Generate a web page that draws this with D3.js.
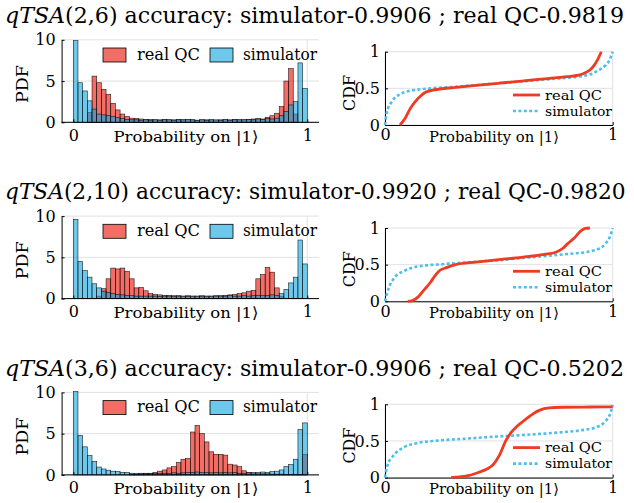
<!DOCTYPE html>
<html><head><meta charset="utf-8">
<script src="https://cdn.jsdelivr.net/npm/d3@7"></script>
<style>
html,body{margin:0;padding:0;background:#fff;}
svg{display:block;}
svg text{font-family:"DejaVu Serif",serif;}
</style></head>
<body><svg id="c" width="634" height="503"></svg>
<script>
// ---------- data ----------
const titles = [
  {it:"qTSA", rest:"(2,6) accuracy: simulator-0.9906 ; real QC-0.9819"},
  {it:"qTSA", rest:"(2,10) accuracy: simulator-0.9920 ; real QC-0.9820"},
  {it:"qTSA", rest:"(3,6) accuracy: simulator-0.9906 ; real QC-0.5202"}
];
const seriesNames = ["real QC", "simulator"];
const binEdgesMin = 0, binEdgesMax = 1, binCount = 50;
const histYTicks = [0, 5, 10];
const histXTicks = [0, 1];
const cdfYTicks = [0, 0.5, 1];
const cdfXTicks = [0, 1];
const cdfYTickLabels = ["0", "0.5", "1"];

// PDF values (bin width 0.02), panel 1
const real1 = [0,0,0,1.2,5.6,4.8,4.0,3.4,2.3,1.5,
  1.0,0.7,0.5,0.45,0.4,0.35,0.35,0.3,0.3,0.35,
  0.3,0.3,0.35,0.3,0.3,0.3,0.25,0.3,0.3,0.3,
  0.25,0.3,0.3,0.3,0.35,0.3,0.3,0.35,0.4,0.45,
  0.4,0.6,0.8,1.1,1.9,5.0,6.5,1.0,0,0];
const sim1 = [9.9,4.8,3.8,2.6,1.6,1.0,0.9,0.8,0.7,0.55,
  0.45,0.35,0.3,0.3,0.25,0.3,0.25,0.3,0.25,0.3,
  0.3,0.25,0.3,0.3,0.35,0.3,0.25,0.3,0.25,0.3,
  0.3,0.25,0.35,0.25,0.3,0.3,0.3,0.35,0.3,0.4,
  0.35,0.45,0.4,0.5,0.8,1.3,2.1,2.5,7.2,4.1];
// panel 2
const real2 = [0,0,0,0,0,0.3,1.2,2.4,3.7,3.6,
  3.7,3.3,2.4,1.3,1.35,0.95,0.6,0.5,0.45,0.4,
  0.4,0.35,0.35,0.3,0.35,0.3,0.3,0.35,0.3,0.3,
  0.35,0.35,0.4,0.45,0.5,0.6,0.7,0.9,1.0,2.4,
  2.9,3.8,3.2,1.3,0.3,0,0,0,0,0];
const sim2 = [9.6,4.5,3.4,2.6,1.8,1.3,0.9,0.75,0.6,0.5,
  0.45,0.4,0.35,0.3,0.3,0.3,0.3,0.3,0.25,0.3,
  0.3,0.25,0.3,0.3,0.25,0.3,0.3,0.25,0.3,0.3,
  0.3,0.3,0.3,0.35,0.3,0.3,0.35,0.3,0.35,0.4,
  0.35,0.4,0.45,0.4,0.6,1.1,1.9,2.6,7.1,4.2];
// panel 3
const real3 = [0,0,0,0,0,0,0,0,0,0,
  0,0,0.1,0.1,0.15,0.2,0.2,0.3,0.45,0.6,
  0.85,1.0,1.5,1.9,2.0,5.2,6.0,5.0,4.0,2.8,
  2.5,2.5,2.4,1.3,1.2,1.0,0.5,0.3,0.2,0.2,
  0.15,0.15,0.1,0.1,0.1,0.05,0.05,0.05,0.05,2.5];
const sim3 = [10.1,4.8,3.4,2.35,1.65,0.95,0.72,0.57,0.45,0.42,
  0.3,0.3,0.2,0.15,0.2,0.15,0.15,0.2,0.15,0.2,
  0.2,0.25,0.2,0.25,0.3,0.3,0.35,0.3,0.3,0.25,
  0.3,0.25,0.3,0.25,0.3,0.2,0.2,0.25,0.3,0.3,
  0.35,0.3,0.4,0.45,0.6,1.0,1.25,1.9,5.5,6.3];

// CDF curves: [x, F(x)]
const cdfReal1 = [[0.066,0],[0.09,0.1],[0.11,0.22],[0.13,0.31],[0.154,0.39],[0.18,0.45],[0.21,0.475],[0.24,0.49],[0.3,0.51],[0.4,0.54],[0.5,0.57],[0.6,0.6],[0.7,0.63],[0.8,0.66],[0.85,0.68],[0.87,0.7],[0.9,0.75],[0.92,0.82],[0.935,0.9],[0.95,1]];
const cdfSim1 = [[0,0],[0.007,0.16],[0.03,0.32],[0.066,0.42],[0.1,0.46],[0.15,0.485],[0.2,0.5],[0.3,0.52],[0.4,0.545],[0.5,0.57],[0.6,0.595],[0.7,0.62],[0.8,0.645],[0.87,0.67],[0.91,0.7],[0.94,0.75],[0.97,0.82],[0.985,0.88],[1,1]];
const cdfReal2 = [[0.1,0],[0.12,0.01],[0.146,0.06],[0.17,0.15],[0.2,0.26],[0.22,0.35],[0.24,0.42],[0.27,0.46],[0.31,0.5],[0.4,0.535],[0.5,0.57],[0.6,0.6],[0.7,0.64],[0.75,0.67],[0.78,0.72],[0.8,0.78],[0.83,0.86],[0.86,0.96],[0.88,0.995],[0.9,1]];
const cdfSim2 = [[0,0],[0.015,0.17],[0.044,0.33],[0.088,0.42],[0.154,0.48],[0.27,0.51],[0.4,0.54],[0.5,0.56],[0.6,0.59],[0.7,0.615],[0.8,0.645],[0.9,0.68],[0.94,0.72],[0.97,0.79],[0.99,0.9],[1,1]];
const cdfReal3 = [[0.29,0],[0.33,0.01],[0.37,0.03],[0.41,0.07],[0.45,0.12],[0.476,0.18],[0.49,0.24],[0.505,0.32],[0.53,0.5],[0.555,0.62],[0.58,0.7],[0.62,0.8],[0.65,0.87],[0.68,0.92],[0.72,0.95],[0.78,0.96],[0.9,0.963],[1,0.965]];
const cdfSim3 = [[0,0],[0.01,0.16],[0.037,0.3],[0.08,0.41],[0.14,0.47],[0.23,0.505],[0.35,0.53],[0.49,0.56],[0.6,0.58],[0.7,0.6],[0.78,0.62],[0.86,0.645],[0.93,0.69],[0.965,0.76],[0.99,0.88],[1,0.99]];

const panels = [
  {real: real1, sim: sim1, cdfReal: cdfReal1, cdfSim: cdfSim1},
  {real: real2, sim: sim2, cdfReal: cdfReal2, cdfSim: cdfSim2},
  {real: real3, sim: sim3, cdfReal: cdfReal3, cdfSim: cdfSim3}
];

// ---------- styles ----------
const RED_FACE = "rgb(232,12,0)", BLUE_FACE = "rgb(13,163,222)";
const RED_LINE = "#EE3B22", BLUE_LINE = "#4DBEEE";
const GRID = "#e1e1e1";
const ROW_STEP = 176.3;
const FONT = "DejaVu Serif";

const svg = d3.select("#c");

// scale font-size so the text's natural width matches a target width
function fitFont(sel, target, base){
  sel.style("font-size", base + "px");
  const w = sel.node().getComputedTextLength();
  if (w > 0) sel.style("font-size", (base * target / w).toFixed(2) + "px");
  return sel;
}
// keep a given size and fit the glyphs to a target width (the reference font is narrower)
function fitWidth(sel, target, size){
  sel.style("font-size", size + "px")
    .attr("textLength", target).attr("lengthAdjust", "spacingAndGlyphs");
  return sel;
}

panels.forEach((p, r) => {
  const dy = r * ROW_STEP;
  const g = svg.append("g");

  // ---- title ----
  const t = g.append("text").attr("x", 5).attr("y", 23 + dy).attr("fill", "#000");
  t.append("tspan").style("font-style", "italic").text(titles[r].it);
  t.append("tspan").text(titles[r].rest);
  fitFont(t, r === 1 ? 621 : 619, 20);

  // ---- histogram ----
  const hx = d3.scaleLinear().domain([0, 1]).range([73.3, 307.3]);
  const hy = d3.scaleLinear().domain([0, 10]).range([122.3 + dy, 39.8 + dy]);
  const hxL = hx(-0.05), hxR = hx(1.05);

  histYTicks.forEach(v => g.append("line").attr("x1", hxL).attr("x2", hxR)
    .attr("y1", hy(v)).attr("y2", hy(v)).attr("stroke", GRID).attr("stroke-width", 1));
  histXTicks.forEach(v => g.append("line").attr("x1", hx(v)).attr("x2", hx(v))
    .attr("y1", hy(0)).attr("y2", hy(10)).attr("stroke", GRID).attr("stroke-width", 1));

  const bw = (binEdgesMax - binEdgesMin) / binCount;
  const drawBars = (vals, color) => {
    g.append("g").selectAll("rect").data(vals).join("rect")
      .attr("x", (d, i) => hx(binEdgesMin + i * bw))
      .attr("width", (d, i) => hx(binEdgesMin + (i + 1) * bw) - hx(binEdgesMin + i * bw))
      .attr("y", d => hy(d))
      .attr("height", d => hy(0) - hy(d))
      .attr("fill", color).attr("fill-opacity", 0.6)
      .attr("stroke", d => d > 0 ? "#000" : "none").attr("stroke-width", 0.6)
      .attr("stroke-opacity", 0.85);
  };
  drawBars(p.real, RED_FACE);
  drawBars(p.sim, BLUE_FACE);

  const ax = g.append("g").attr("transform", `translate(0,${hy(0)})`)
    .call(d3.axisBottom(hx).tickValues(histXTicks).tickFormat(d3.format("d")).tickSizeInner(-3).tickSizeOuter(0).tickPadding(8));
  ax.select(".domain").attr("d", `M${hxL},0H${hxR}`);
  const ay = g.append("g").attr("transform", `translate(${hxL},0)`)
    .call(d3.axisLeft(hy).tickValues(histYTicks).tickFormat(d3.format("d")).tickSizeInner(-3).tickSizeOuter(0).tickPadding(6));
  [ax, ay].forEach(a => {
    a.attr("font-family", FONT).attr("font-size", 16);
    a.selectAll("text").attr("fill", "#000");
    a.selectAll("line").attr("stroke", "#000");
    a.select(".domain").attr("stroke", "#000");
  });
  ax.selectAll("text").attr("dy", "0.71em").attr("y", 7);

  const xl = g.append("text").attr("x", 186).attr("y", 141.5 + dy).attr("text-anchor", "middle").text("Probability on |1⟩");
  fitWidth(xl, 145, 15.5);
  const yl = g.append("text").attr("transform", `translate(28,${84 + dy}) rotate(-90)`)
    .attr("text-anchor", "middle").text("PDF");
  fitWidth(yl, 38, 17);

  const lg = g.append("g");
  [[RED_FACE, 103, 137, seriesNames[0], 63], [BLUE_FACE, 210, 243, seriesNames[1], 74]].forEach(([c, bx, tx, name, w]) => {
    lg.append("rect").attr("x", bx).attr("y", 48 + dy).attr("width", 23).attr("height", 14)
      .attr("fill", c).attr("fill-opacity", 0.6).attr("stroke", "#000").attr("stroke-width", 0.8);
    const tt = lg.append("text").attr("x", tx).attr("y", 59.5 + dy).text(name);
    fitWidth(tt, w, 16);
  });

  // ---- CDF ----
  const cx = d3.scaleLinear().domain([0, 1]).range([385, 612.7]);
  const cy = d3.scaleLinear().domain([0, 1]).range([125 + dy, 51.7 + dy]);
  cdfYTicks.forEach(v => g.append("line").attr("x1", cx(0)).attr("x2", cx(1))
    .attr("y1", cy(v)).attr("y2", cy(v)).attr("stroke", GRID));
  cdfXTicks.forEach(v => g.append("line").attr("x1", cx(v)).attr("x2", cx(v))
    .attr("y1", cy(0)).attr("y2", cy(1)).attr("stroke", GRID));

  const cax = g.append("g").attr("transform", `translate(0,${cy(0)})`)
    .call(d3.axisBottom(cx).tickValues(cdfXTicks).tickFormat(d3.format("d")).tickSizeInner(-3).tickSizeOuter(0).tickPadding(8));
  const cay = g.append("g").attr("transform", `translate(${cx(0)},0)`)
    .call(d3.axisLeft(cy).tickValues(cdfYTicks).tickFormat((d, i) => cdfYTickLabels[i]).tickSizeInner(-3).tickSizeOuter(0).tickPadding(5));
  [cax, cay].forEach(a => {
    a.attr("font-family", FONT).attr("font-size", 16);
    a.selectAll("text").attr("fill", "#000");
    a.selectAll("line").attr("stroke", "#000");
    a.select(".domain").attr("stroke", "#000");
  });
  cax.selectAll("text").attr("dy", "0.71em").attr("y", 4);

  const line = d3.line().x(d => cx(d[0])).y(d => cy(d[1])).curve(d3.curveMonotoneX);
  g.append("path").datum(p.cdfSim).attr("d", line).attr("fill", "none")
    .attr("stroke", BLUE_LINE).attr("stroke-width", 2.6).attr("stroke-dasharray", "3,2.4");
  g.append("path").datum(p.cdfReal).attr("d", line).attr("fill", "none")
    .attr("stroke", RED_LINE).attr("stroke-width", 2.8);

  const cxl = g.append("text").attr("x", 494).attr("y", 141.5 + dy).attr("text-anchor", "middle").text("Probability on |1⟩");
  fitWidth(cxl, 130, 14.5);
  const cyl = g.append("text").attr("transform", `translate(355,${93 + dy}) rotate(-90)`)
    .attr("text-anchor", "middle").text("CDF");
  fitWidth(cyl, 36, 16);

  g.append("line").attr("x1", 513).attr("x2", 540).attr("y1", 95 + dy).attr("y2", 95 + dy)
    .attr("stroke", RED_LINE).attr("stroke-width", 2.8);
  g.append("line").attr("x1", 513).attr("x2", 540).attr("y1", 111 + dy).attr("y2", 111 + dy)
    .attr("stroke", BLUE_LINE).attr("stroke-width", 2.6).attr("stroke-dasharray", "3,2.4");
  const l1 = g.append("text").attr("x", 545).attr("y", 99.5 + dy).text(seriesNames[0]);
  fitWidth(l1, 57, 13.5);
  const l2 = g.append("text").attr("x", 545).attr("y", 115.5 + dy).text(seriesNames[1]);
  fitWidth(l2, 67, 13.5);
});
</script></body></html>
